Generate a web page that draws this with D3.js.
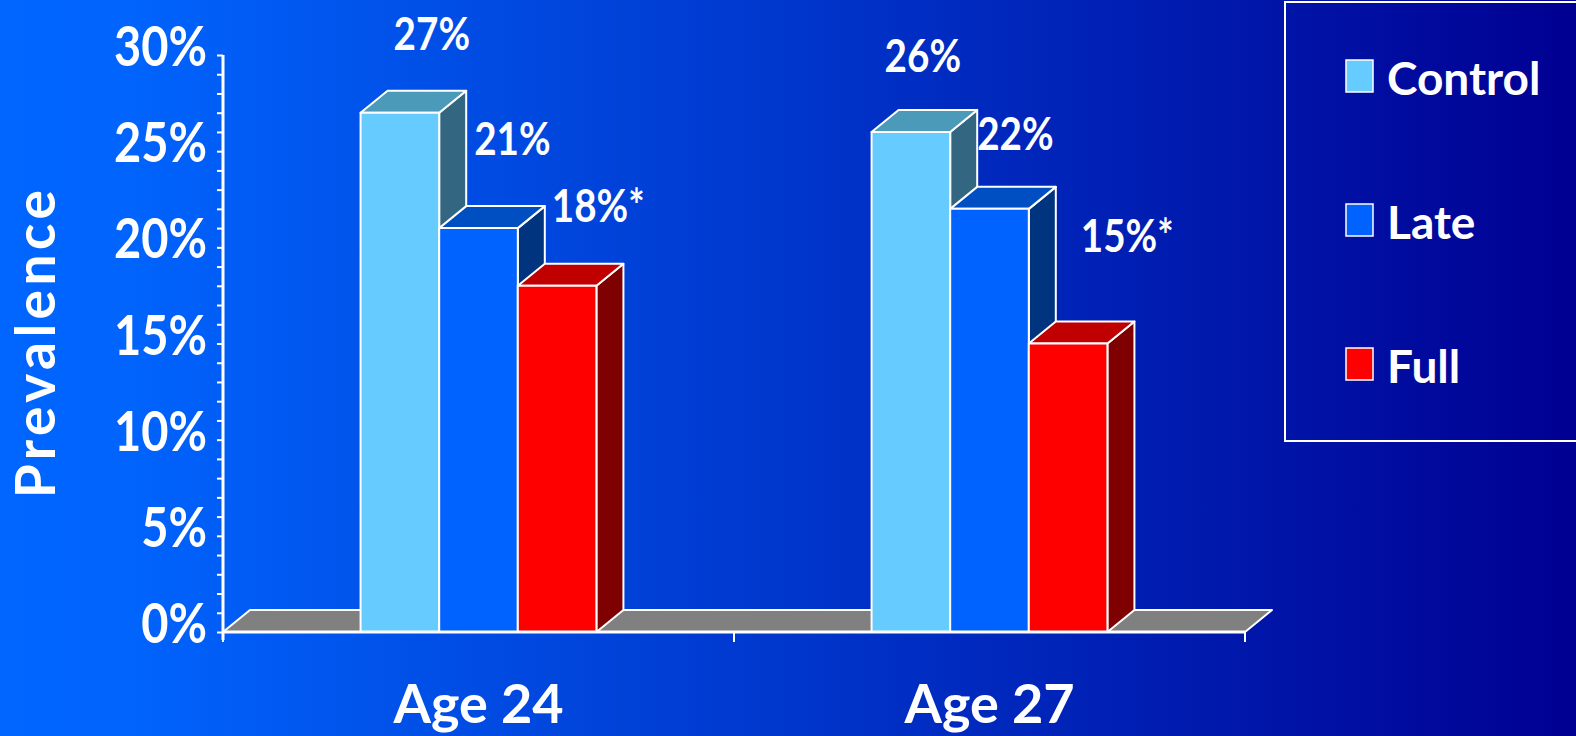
<!DOCTYPE html>
<html>
<head>
<meta charset="utf-8">
<script src="https://cdn.jsdelivr.net/npm/d3@7"></script>
<style>
  html, body { margin: 0; padding: 0; background: #0050e0; }
  svg { display: block; }
  text { font-family: Lato, "Open Sans", sans-serif; font-weight: 700; fill: #fff; }
</style>
</head>
<body>
<svg id="chart" width="1576" height="736"></svg>
<script>
// ---------- data ----------
const categories = ["Age 24", "Age 27"];
const series = ["Control", "Late", "Full"];
const controlValues = [27, 26];
const lateValues = [21, 22];
const fullValues = [18, 15];
const valueLabels = [["27%", "21%", "18%*"], ["26%", "22%", "15%*"]];
const yTickValues = [0, 5, 10, 15, 20, 25, 30];
const yTickLabels = ["0%", "5%", "10%", "15%", "20%", "25%", "30%"];
const yTitle = "Prevalence";

// ---------- layout / style (not data) ----------
const W = 1576, H = 736;
const plot = { left: 223, right: 1245, top: 55, bottom: 632 };
const depth = { dx: 27, dy: 22 };
const colors = {
  Control: { front: "#66ccff", top: "#4b9aba", side: "#336680" },
  Late:    { front: "#0063ff", top: "#004fc2", side: "#00347f" },
  Full:    { front: "#ff0000", top: "#c00000", side: "#7f0000" }
};
// manual label placement: [offset from bar left, lift above bar top]
const labelNudge = [[[33, 63], [35, 73], [34, 64]], [[13, 60], [27, 59], [52, 92]]];
const numScaleX = 0.84;

const valuesBySeries = { Control: controlValues, Late: lateValues, Full: fullValues };

const svg = d3.select("#chart");

// background gradient
const defs = svg.append("defs");
const grad = defs.append("linearGradient").attr("id", "bg").attr("x1", "0").attr("x2", "1").attr("y1", "0").attr("y2", "0");
grad.append("stop").attr("offset", "0").attr("stop-color", "#0066ff");
grad.append("stop").attr("offset", "0.08").attr("stop-color", "#0064fd");
grad.append("stop").attr("offset", "1").attr("stop-color", "#000092");
svg.append("rect").attr("width", W).attr("height", H).attr("fill", "url(#bg)");

// scales
const y = d3.scaleLinear().domain([0, 30]).range([plot.bottom, plot.top]);
const x = d3.scaleBand().domain(categories).range([plot.left, plot.right]).paddingInner(0).paddingOuter(0);
const xs = d3.scaleBand().domain(series).range([0, x.bandwidth()]).paddingInner(0).paddingOuter(1.75);

// floor
const fl = svg.append("g");
fl.append("polygon")
  .attr("points", [
    [plot.left, plot.bottom], [plot.left + depth.dx, plot.bottom - depth.dy],
    [plot.right + depth.dx, plot.bottom - depth.dy], [plot.right, plot.bottom]
  ].map(p => p.join(",")).join(" "))
  .attr("fill", "#808080").attr("stroke", "#fff").attr("stroke-width", 2).attr("stroke-linejoin", "round");

// bars
const bars = svg.append("g");
categories.forEach((cat, ci) => {
  series.forEach((s, si) => {
    const v = valuesBySeries[s][ci];
    const x0 = x(cat) + xs(s), x1 = x0 + xs.bandwidth();
    const yt = y(v), yb = y(0);
    const c = colors[s];
    const g = bars.append("g").attr("stroke", "#fff").attr("stroke-width", 2).attr("stroke-linejoin", "round");
    g.append("polygon")
      .attr("points", [[x1, yt], [x1 + depth.dx, yt - depth.dy], [x1 + depth.dx, yb - depth.dy], [x1, yb]].map(p => p.join(",")).join(" "))
      .attr("fill", c.side);
    g.append("polygon")
      .attr("points", [[x0, yt], [x0 + depth.dx, yt - depth.dy], [x1 + depth.dx, yt - depth.dy], [x1, yt]].map(p => p.join(",")).join(" "))
      .attr("fill", c.top);
    g.append("rect").attr("x", x0).attr("y", yt).attr("width", x1 - x0).attr("height", yb - yt).attr("fill", c.front);
  });
});

// x axis line + ticks
const xa = svg.append("g").attr("stroke", "#fff");
xa.append("line").attr("x1", plot.left).attr("x2", plot.right).attr("y1", plot.bottom).attr("y2", plot.bottom).attr("stroke-width", 3);
const xTickPos = categories.map(c => x(c)).concat([x.range()[1]]);
xa.selectAll("line.t").data(xTickPos).enter().append("line")
  .attr("class", "t").attr("x1", d => d).attr("x2", d => d)
  .attr("y1", plot.bottom).attr("y2", plot.bottom + 10).attr("stroke-width", 2);

// y axis
const yAxis = d3.axisLeft(y).tickValues(d3.range(0, 31)).tickSize(6).tickFormat("");
const ya = svg.append("g").attr("transform", `translate(${plot.left},0)`).call(yAxis);
ya.select(".domain").attr("stroke", "#fff").attr("stroke-width", 3).attr("d", `M0,${plot.top}V${plot.bottom + 8}`);
ya.selectAll(".tick line").attr("stroke", "#fff").attr("stroke-width", 2);

// y tick labels
svg.append("g").selectAll("text").data(yTickValues).enter().append("text")
  .attr("transform", d => `translate(207,${y(d) + 11}) scale(${numScaleX},1)`)
  .attr("text-anchor", "end").attr("font-size", 56)
  .text((d, i) => yTickLabels[i]);

// y title
svg.append("text")
  .attr("transform", "translate(55,342) rotate(-90)")
  .attr("text-anchor", "middle").attr("font-size", 55).attr("letter-spacing", 4.5)
  .text(yTitle);

// category labels
svg.append("g").selectAll("text").data(categories).enter().append("text")
  .attr("x", d => x(d) + x.bandwidth() / 2).attr("y", 723)
  .attr("text-anchor", "middle").attr("font-size", 54)
  .text(d => d);

// value labels
categories.forEach((cat, ci) => {
  series.forEach((s, si) => {
    const v = valuesBySeries[s][ci];
    const x0 = x(cat) + xs(s);
    const [ox, lift] = labelNudge[ci][si];
    svg.append("text")
      .attr("transform", `translate(${x0 + ox},${y(v) - lift}) scale(${numScaleX},1)`)
      .attr("font-size", 46)
      .text(valueLabels[ci][si]);
  });
});

// legend
const lg = svg.append("g");
lg.append("rect").attr("x", 1285).attr("y", 2).attr("width", 330).attr("height", 439)
  .attr("fill", "none").attr("stroke", "#fff").attr("stroke-width", 2);
series.forEach((s, i) => {
  const cy = 95 + i * 144;
  lg.append("rect").attr("x", 1346).attr("y", cy - 35).attr("width", 27).attr("height", 32)
    .attr("fill", colors[s].front).attr("stroke", "#fff").attr("stroke-width", 1.5);
  lg.append("text").attr("x", 1387).attr("y", cy).attr("font-size", 46).text(s);
});
</script>
</body>
</html>
